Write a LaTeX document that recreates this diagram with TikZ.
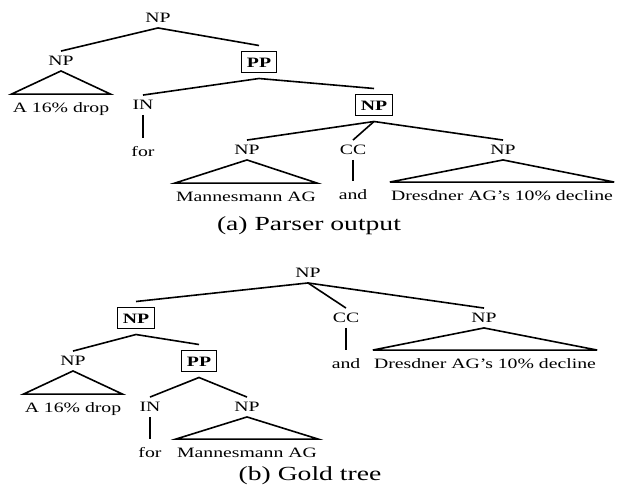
\documentclass[tikz,border=0pt]{standalone}
\usepackage{fontspec}
\setmainfont[FakeStretch=1.38]{Liberation Serif}
\begin{document}
\begin{tikzpicture}[x=1pt,y=-1pt,
  every node/.style={font=\fontsize{14.3}{17}\selectfont},
  lab/.style={inner xsep=0pt, inner ysep=5pt, text height=9.5pt, text depth=0pt},
  boxed/.style={draw, line width=1.6pt, font=\fontsize{14.3}{17}\selectfont\bfseries,
     inner xsep=5.5pt, inner ysep=5.5pt, text height=10pt, text depth=0pt, outer sep=6pt},
  leaf/.style={inner xsep=1pt, inner ysep=9pt, text height=9.5pt, text depth=0pt},
  captext/.style={font=\fontsize{20}{24}\selectfont},
  br/.style={line width=1.6pt}
]
\useasboundingbox (0,0) rectangle (618,491);

% ---------- (a) parser output ----------
\node[lab] (rA) at (158,18) {NP};
\node[lab] (a1) at (61,61) {NP};
\node[boxed] (aPP) at (259,62) {PP};
\node[leaf] (aDrop) at (61,108) {A 16\% drop};
\node[lab] (aIN) at (143,105) {IN};
\node[leaf] (aFor) at (143,152) {for};
\node[boxed] (aNP) at (374,105) {NP};
\node[lab] (a3) at (247,150) {NP};
\node[leaf] (aMann) at (246,197) {Mannesmann AG};
\node[lab] (aCC) at (353,150) {CC};
\node[leaf] (aAnd) at (353,195) {and};
\node[lab] (a4) at (503,150) {NP};
\node[leaf] (aDres) at (502,196) {Dresdner AG’s 10\% decline};
\node[captext] (capA) at (309,226) {(a) Parser output};

\draw[br] (a1.north) -- (rA.south) -- (aPP.north);
\draw[br] (aDrop.north west) -- (a1.south) -- (aDrop.north east) -- cycle;
\draw[br] (aIN.north) -- (aPP.south) -- (aNP.north);
\draw[br] (aIN.south) -- (aFor.north);
\draw[br] (a3.north) -- (aNP.south) -- (a4.north);
\draw[br] (aNP.south) -- (aCC.north);
\draw[br] (aMann.north west) -- (a3.south) -- (aMann.north east) -- cycle;
\draw[br] (aCC.south) -- (aAnd.north);
\draw[br] (aDres.north west) -- (a4.south) -- (aDres.north east) -- cycle;

% ---------- (b) gold tree ----------
\node[lab] (rB) at (308,273) {NP};
\node[boxed] (bNP) at (136,318) {NP};
\node[lab] (bCC) at (346,318) {CC};
\node[lab] (b2) at (484,318) {NP};
\node[leaf] (bAnd) at (346,364) {and};
\node[leaf] (bDres) at (485,364) {Dresdner AG’s 10\% decline};
\node[lab] (b3) at (73,361) {NP};
\node[boxed] (bPP) at (199,361) {PP};
\node[leaf] (bDrop) at (73,408) {A 16\% drop};
\node[lab] (bIN) at (150,407) {IN};
\node[lab] (b4) at (247,407) {NP};
\node[leaf] (bFor) at (150,453) {for};
\node[leaf] (bMann) at (247,453) {Mannesmann AG};
\node[captext] (capB) at (310,476) {(b) Gold tree};

\draw[br] (bNP.north) -- (rB.south) -- (b2.north);
\draw[br] (rB.south) -- (bCC.north);
\draw[br] (bCC.south) -- (bAnd.north);
\draw[br] (bDres.north west) -- (b2.south) -- (bDres.north east) -- cycle;
\draw[br] (b3.north) -- (bNP.south) -- (bPP.north);
\draw[br] (bDrop.north west) -- (b3.south) -- (bDrop.north east) -- cycle;
\draw[br] (bIN.north) -- (bPP.south) -- (b4.north);
\draw[br] (bIN.south) -- (bFor.north);
\draw[br] (bMann.north west) -- (b4.south) -- (bMann.north east) -- cycle;
\end{tikzpicture}
\end{document}
